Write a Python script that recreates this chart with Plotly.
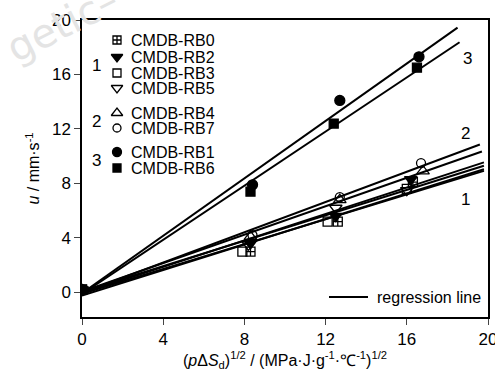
import numpy as np
import plotly.graph_objects as go

# ---------------- data ----------------
names = ["CMDB-RB0", "CMDB-RB2", "CMDB-RB3", "CMDB-RB5",
         "CMDB-RB4", "CMDB-RB7", "CMDB-RB1", "CMDB-RB6"]
groups = [1, 1, 1, 1, 2, 2, 3, 3]

x_RB0 = [0, 8.3, 12.6, 16.3]
u_RB0 = [0.2, 3.0, 5.2, 8.1]
x_RB2 = [0, 8.3, 12.5, 16.2]
u_RB2 = [0.2, 3.6, 5.6, 8.3]
x_RB3 = [0, 7.9, 12.1, 16.0]
u_RB3 = [0.2, 3.0, 5.2, 7.6]
x_RB5 = [0, 8.2, 12.5, 16.0]
u_RB5 = [0.2, 3.5, 6.2, 7.5]
x_RB4 = [0, 8.3, 12.7, 16.8]
u_RB4 = [0.2, 4.1, 6.8, 8.9]
x_RB7 = [0, 8.4, 12.7, 16.7]
u_RB7 = [0.2, 4.2, 7.0, 9.5]
x_RB1 = [0, 8.4, 12.7, 16.6]
u_RB1 = [0.2, 7.9, 14.1, 17.3]
x_RB6 = [0, 8.3, 12.4, 16.5]
u_RB6 = [0.2, 7.4, 12.4, 16.5]

xs = [x_RB0, x_RB2, x_RB3, x_RB5, x_RB4, x_RB7, x_RB1, x_RB6]
us = [u_RB0, u_RB2, u_RB3, u_RB5, u_RB4, u_RB7, u_RB1, u_RB6]
line_end = [19.8, 19.8, 19.8, 19.8, 19.7, 19.6, 18.5, 18.6]

x_ticks = [0, 4, 8, 12, 16, 20]
y_ticks = [0, 4, 8, 12, 16, 20]

# ---------------- styles ----------------
symbols = ["square-cross-open", "triangle-down", "square-open", "triangle-down-open",
           "triangle-up-open", "circle-open", "circle", "square"]
sizes = [9, 11, 9, 11, 11, 9, 10, 9]
FONT = "Liberation Sans, Arial, sans-serif"


def fnt(size):
    return dict(size=size, family=FONT, color="black")


fig = go.Figure()

# regression lines
for x, u, xe in zip(xs, us, line_end):
    k, b = np.polyfit(x, u, 1)
    xl = np.array([0.0, xe])
    fig.add_trace(go.Scatter(x=xl, y=k * xl + b, mode="lines",
                             line=dict(color="black", width=2),
                             showlegend=False, hoverinfo="skip"))

# data points
for x, u, nm, sym, sz in zip(xs, us, names, symbols, sizes):
    fig.add_trace(go.Scatter(x=x, y=u, mode="markers", name=nm,
                             marker=dict(symbol=sym, size=sz, color="black",
                                         line=dict(color="black", width=1.3)),
                             showlegend=False))

# ---------------- manual legend (pixel-like overlay axes) ----------------
leg_rows = [40, 57, 73, 88, 113, 128, 152, 168]
leg_key_x = 117
leg_text_x = 129
for nm, sym, sz, yy in zip(names, symbols, sizes, leg_rows):
    fig.add_trace(go.Scatter(x=[leg_key_x], y=[yy], mode="markers",
                             xaxis="x2", yaxis="y2",
                             marker=dict(symbol=sym, size=sz - 1, color="black",
                                         line=dict(color="black", width=1.3)),
                             showlegend=False, hoverinfo="skip"))
    fig.add_annotation(x=leg_text_x, y=yy, xref="x2", yref="y2", text=nm,
                       showarrow=False, xanchor="left", yanchor="middle",
                       font=fnt(16))

for g, yy in zip(["1", "2", "3"], [65, 121, 160]):
    fig.add_annotation(x=96, y=yy, xref="x2", yref="y2", text=g,
                       showarrow=False, xanchor="center", yanchor="middle",
                       font=fnt(17))

# regression line legend
fig.add_shape(type="line", x0=329, x1=368, y0=297, y1=297, xref="x2", yref="y2",
              line=dict(color="black", width=2))
fig.add_annotation(x=375, y=297, xref="x2", yref="y2", text="regression line",
                   showarrow=False, xanchor="left", yanchor="middle",
                   font=fnt(16))

# group labels near line ends
for g, gx, gy in zip(["3", "2", "1"], [19.0, 18.9, 18.9], [17.2, 11.7, 6.8]):
    fig.add_annotation(x=gx, y=gy, text=g, showarrow=False, font=fnt(17))

# watermark
fig.add_annotation(x=0.0, y=1.0, xref="paper", yref="paper",
                   text="getic–", showarrow=False, textangle=-27,
                   xanchor="center", yanchor="middle", xshift=-20, yshift=-4,
                   font=dict(size=40, family="DejaVu Sans", color="#e4e4e4"))

fig.update_layout(
    width=495, height=376,
    margin=dict(l=82, r=7, t=20, b=59),
    paper_bgcolor="white", plot_bgcolor="white",
    font=fnt(16),
    showlegend=False,
    xaxis=dict(range=[0, 20], tickvals=x_ticks, ticks="outside", ticklen=6,
               tickwidth=1.3, showline=True, linecolor="black", linewidth=1.5,
               mirror=True, showgrid=False, zeroline=False, automargin=False,
               tickfont=fnt(17), ticklabeloverflow="allow",
               title=dict(text="(<i>p</i>Δ<i>S</i><sub>d</sub>)<sup>1/2</sup> / (MPa·J·g<sup>-1</sup>·℃<sup>-1</sup>)<sup>1/2</sup>",
                          font=fnt(16), standoff=6)),
    yaxis=dict(range=[-1.8, 20], tickvals=y_ticks, ticks="outside", ticklen=6,
               tickwidth=1.3, showline=True, linecolor="black", linewidth=1.5,
               mirror=True, showgrid=False, zeroline=False, automargin=False,
               tickfont=fnt(17), ticklabeloverflow="allow",
               title=dict(text="<i>u</i> / mm·s<sup>-1</sup>",
                          font=fnt(16), standoff=8)),
    xaxis2=dict(overlaying="x", anchor="y2", range=[82, 488], visible=False,
                fixedrange=True),
    yaxis2=dict(overlaying="y", anchor="x2", range=[317, 20], visible=False,
                fixedrange=True),
)

fig.write_html("out.html", config={"displayModeBar": False},
               post_script="document.body.style.margin='0';document.body.style.overflow='hidden';")
